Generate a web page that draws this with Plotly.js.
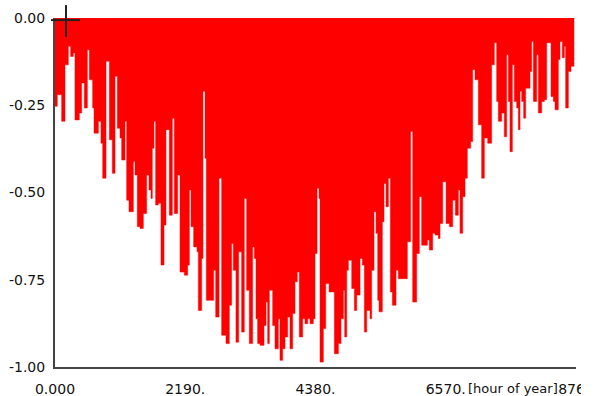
<!DOCTYPE html>
<html>
<head>
<meta charset="utf-8">
<script src="https://cdn.plot.ly/plotly-3.0.1.min.js"></script>
<style>html,body{margin:0;padding:0;background:#fff;}#chart{width:602px;height:396px;}</style>
</head>
<body>
<div id="chart"></div>
<script>
// Start hour of each step (hour of year) and its value
const hours = [0,39,112,168,224,263,308,336,409,448,493,544,577,633,656,729,773,802,858,914,964,1009,1048,1093,1121,1177,1205,1244,1317,1345,1384,1429,1485,1541,1580,1614,1636,1664,1692,1737,1782,1833,1866,1922,1973,2006,2062,2102,2175,2231,2259,2287,2331,2388,2410,2466,2488,2522,2544,2668,2702,2758,2802,2875,2931,2970,2998,3043,3088,3138,3183,3222,3267,3323,3351,3379,3407,3447,3514,3548,3576,3604,3660,3699,3755,3783,3828,3867,3912,3951,3996,4035,4074,4108,4164,4203,4249,4288,4344,4372,4406,4439,4456,4512,4552,4608,4697,4765,4809,4849,4871,4905,4933,4989,5034,5073,5129,5168,5202,5241,5297,5325,5364,5398,5426,5448,5504,5532,5566,5605,5639,5673,5734,5773,5924,5980,6014,6081,6126,6165,6261,6294,6350,6390,6446,6474,6519,6575,6631,6687,6732,6782,6810,6855,6894,6933,6989,7023,7062,7118,7174,7219,7275,7342,7387,7426,7454,7510,7555,7594,7622,7650,7690,7723,7763,7791,7819,7847,7880,7914,7987,8015,8043,8099,8127,8183,8228,8267,8340,8379,8407,8463,8491,8530,8564,8586,8631,8676,8730];
const values = [-0.253,-0.220,-0.296,-0.134,-0.081,-0.110,-0.100,-0.292,-0.272,-0.186,-0.258,-0.091,-0.177,-0.258,-0.330,-0.296,-0.359,-0.459,-0.124,-0.349,-0.445,-0.167,-0.316,-0.344,-0.407,-0.296,-0.522,-0.555,-0.411,-0.450,-0.598,-0.603,-0.560,-0.450,-0.493,-0.517,-0.373,-0.296,-0.536,-0.531,-0.708,-0.593,-0.320,-0.565,-0.287,-0.560,-0.450,-0.728,-0.737,-0.708,-0.493,-0.598,-0.656,-0.670,-0.838,-0.689,-0.210,-0.402,-0.809,-0.723,-0.857,-0.459,-0.909,-0.933,-0.823,-0.646,-0.723,-0.929,-0.670,-0.900,-0.517,-0.780,-0.933,-0.656,-0.689,-0.862,-0.933,-0.938,-0.881,-0.814,-0.933,-0.780,-0.881,-0.948,-0.862,-0.981,-0.948,-0.914,-0.857,-0.948,-0.847,-0.756,-0.728,-0.914,-0.862,-0.876,-0.862,-0.876,-0.862,-0.675,-0.488,-0.517,-0.986,-0.890,-0.761,-0.785,-0.962,-0.933,-0.862,-0.780,-0.914,-0.723,-0.694,-0.775,-0.838,-0.794,-0.689,-0.708,-0.900,-0.838,-0.862,-0.723,-0.555,-0.617,-0.809,-0.842,-0.584,-0.474,-0.541,-0.459,-0.785,-0.823,-0.723,-0.747,-0.641,-0.325,-0.814,-0.675,-0.512,-0.651,-0.636,-0.665,-0.617,-0.622,-0.632,-0.589,-0.469,-0.589,-0.598,-0.522,-0.565,-0.493,-0.617,-0.512,-0.459,-0.373,-0.354,-0.148,-0.177,-0.306,-0.459,-0.344,-0.359,-0.134,-0.071,-0.239,-0.296,-0.272,-0.340,-0.105,-0.239,-0.383,-0.134,-0.239,-0.258,-0.320,-0.210,-0.239,-0.287,-0.201,-0.153,-0.067,-0.239,-0.105,-0.272,-0.239,-0.234,-0.071,-0.225,-0.239,-0.263,-0.119,-0.067,-0.114,-0.081,-0.258,-0.153,-0.138,-0.138];

const xTickVals = [0, 2190, 4380, 6570, 8760];
const xTickText = ['0.000', '2190.', '4380.', '6570.', '8760'];
const yTickVals = [0, -0.25, -0.5, -0.75, -1];
const yTickText = ['0.00', '-0.25', '-0.50', '-0.75', '-1.00'];
const xTitle = '[hour of year]';

const font = {family: 'DejaVu Sans, sans-serif', size: 14, color: '#111'};

const trace = {
  x: hours, y: values, type: 'scatter', mode: 'lines',
  line: {shape: 'hv', color: '#ff0000', width: 0.5},
  fill: 'tozeroy', fillcolor: '#ff0000', hoverinfo: 'skip'
};

const layout = {
  width: 602, height: 396,
  margin: {l: 55, r: 26, t: 18, b: 29},
  paper_bgcolor: '#fff', plot_bgcolor: '#fff',
  showlegend: false, font: font,
  xaxis: {range: [0, 8760], tickvals: xTickVals, ticktext: xTickText,
    showline: true, linecolor: '#444', linewidth: 2, showgrid: false, zeroline: false,
    ticks: '', ticklabelstandoff: 8, layer: 'below traces', fixedrange: true},
  yaxis: {range: [-1, 0], tickvals: yTickVals, ticktext: yTickText,
    showline: true, linecolor: '#444', linewidth: 2, showgrid: false, zeroline: false,
    ticks: '', ticklabelstandoff: 5, layer: 'below traces', fixedrange: true},
  annotations: [{text: xTitle, xref: 'x', x: 7700, yref: 'paper', y: -0.062,
    xanchor: 'center', yanchor: 'middle', showarrow: false,
    font: {family: font.family, size: 13, color: font.color}}],
  shapes: [
    {type: 'rect', xref: 'paper', yref: 'paper', x0: 1.0096, x1: 1.1, y0: -0.1, y1: -0.01,
      fillcolor: '#fff', line: {width: 0}, layer: 'above'},
    {type: 'line', xref: 'paper', yref: 'paper', x0: 0.0211, x1: 0.0211, y0: 0.9456, y1: 1.037,
      line: {color: '#222', width: 2}, layer: 'above'},
    {type: 'line', xref: 'paper', yref: 'paper', x0: -0.0077, x1: 0.048, y0: 0.994, y1: 0.994,
      line: {color: '#222', width: 2}, layer: 'above'}
  ]
};

Plotly.newPlot('chart', [trace], layout, {staticPlot: true, displayModeBar: false});
</script>
</body>
</html>
